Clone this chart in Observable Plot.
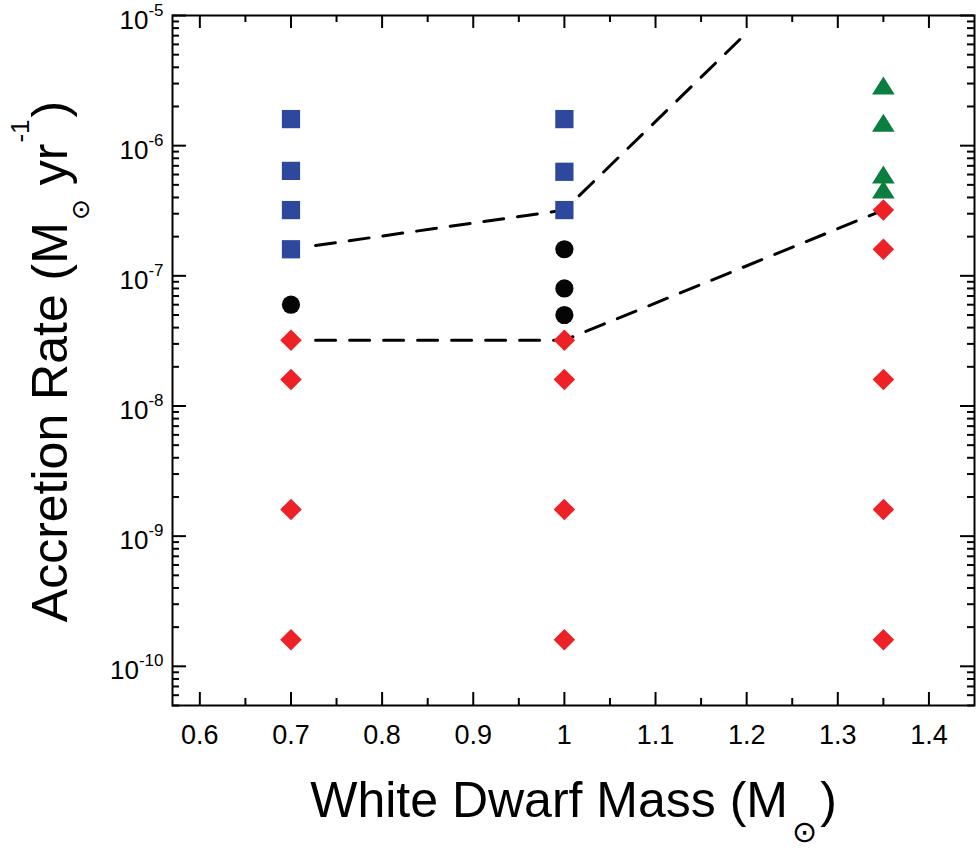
<!DOCTYPE html>
<html>
<head>
<meta charset="utf-8">
<script src="https://cdn.jsdelivr.net/npm/d3@7"></script>
<script src="https://cdn.jsdelivr.net/npm/@observablehq/plot@0.6"></script>
<style>
  html, body { margin: 0; padding: 0; background: #fff; }
  svg { display: block; }
</style>
</head>
<body>
<script>
// ---- data ----
const blueMass = [0.7, 0.7, 0.7, 0.7, 1.0, 1.0, 1.0];
const blueRate = [1.6e-6, 6.4e-7, 3.2e-7, 1.6e-7, 1.6e-6, 6.3e-7, 3.2e-7];

const blackMass = [0.7, 1.0, 1.0, 1.0];
const blackRate = [6.0e-8, 1.6e-7, 8.0e-8, 5.0e-8];

const redMass = [0.7, 0.7, 0.7, 0.7, 1.0, 1.0, 1.0, 1.0, 1.35, 1.35, 1.35, 1.35, 1.35];
const redRate = [3.2e-8, 1.6e-8, 1.6e-9, 1.6e-10, 3.2e-8, 1.6e-8, 1.6e-9, 1.6e-10, 3.2e-7, 1.6e-7, 1.6e-8, 1.6e-9, 1.6e-10];

const greenMass = [1.35, 1.35, 1.35, 1.35];
const greenRate = [2.9e-6, 1.5e-6, 6.0e-7, 4.6e-7];

const upperLineMass = [0.727, 1.0, 1.195];
const upperLineRate = [1.71e-7, 3.2e-7, 6.8e-6];
const lowerLineMass = [0.727, 1.0, 1.35];
const lowerLineRate = [3.2e-8, 3.2e-8, 3.2e-7];

const xMajorTicks = [0.6, 0.7, 0.8, 0.9, 1.0, 1.1, 1.2, 1.3, 1.4];
const xMinorTicks = [0.65, 0.75, 0.85, 0.95, 1.05, 1.15, 1.25, 1.35];
const yMajorTicks = [1e-10, 1e-9, 1e-8, 1e-7, 1e-6, 1e-5];
const yTickExponents = ["-10", "-9", "-8", "-7", "-6", "-5"];
const xTickLabels = ["0.6", "0.7", "0.8", "0.9", "1", "1.1", "1.2", "1.3", "1.4"];

const xTitle = ["White Dwarf Mass (M", "\u2299", ")"];
const yTitle = ["Accretion Rate (M", "\u2299", " yr", "-1", ")"];

// ---- helpers ----
const zip = (xs, ys) => xs.map((x, i) => ({x, y: ys[i]}));
const yDomain = [5e-11, 1e-5];
const yMinorTicks = d3.scaleLog().domain(yDomain).ticks().filter(v => !yMajorTicks.some(m => Math.abs(v / m - 1) < 1e-6));

const W = 976, H = 848;
const mL = 172, mR = 2, mT = 15, mB = 143;
const plotW = W - mL - mR, plotH = H - mT - mB;

const triangle = {
  draw(ctx, size) {
    const r = Math.sqrt(size / Math.PI);
    const hw = 1.26 * r, hh = 1.0 * r;
    ctx.moveTo(0, -hh);
    ctx.lineTo(hw, hh);
    ctx.lineTo(-hw, hh);
    ctx.closePath();
  }
};

const colors = {blue: "#2E489E", red: "#ED2227", green: "#0A7E3E", black: "#050505"};

const svg = Plot.plot({
  width: W,
  height: H,
  marginLeft: mL,
  marginRight: mR,
  marginTop: mT,
  marginBottom: mB,
  style: {fontFamily: "'Liberation Sans', Arial, sans-serif", background: "#fff", color: "#000"},
  x: {type: "linear", domain: [0.57, 1.45], axis: null},
  y: {type: "log", domain: yDomain, axis: null},
  marks: [
    // ticks (inward, all four sides)
    Plot.tickX(xMajorTicks, {x: d => d, insetTop: plotH - 13, strokeWidth: 2}),
    Plot.tickX(xMinorTicks, {x: d => d, insetTop: plotH - 7, strokeWidth: 2}),
    Plot.tickX(xMajorTicks, {x: d => d, insetBottom: plotH - 13, strokeWidth: 2}),
    Plot.tickX(xMinorTicks, {x: d => d, insetBottom: plotH - 7, strokeWidth: 2}),
    Plot.tickY(yMajorTicks, {y: d => d, insetRight: plotW - 14, strokeWidth: 2}),
    Plot.tickY(yMinorTicks, {y: d => d, insetRight: plotW - 7, strokeWidth: 2}),
    Plot.tickY(yMajorTicks, {y: d => d, insetLeft: plotW - 14, strokeWidth: 2}),
    Plot.tickY(yMinorTicks, {y: d => d, insetLeft: plotW - 7, strokeWidth: 2}),
    // dashed boundaries
    Plot.line(zip(upperLineMass, upperLineRate), {x: "x", y: "y", stroke: "#000", strokeWidth: 3, strokeDasharray: "20,14"}),
    Plot.line(zip(lowerLineMass, lowerLineRate), {x: "x", y: "y", stroke: "#000", strokeWidth: 3, strokeDasharray: "20,14"}),
    // markers
    Plot.dot(zip(blueMass, blueRate), {x: "x", y: "y", symbol: "square", r: 10.3, fill: colors.blue}),
    Plot.dot(zip(blackMass, blackRate), {x: "x", y: "y", symbol: "circle", r: 9.1, fill: colors.black}),
    Plot.dot(zip(greenMass, greenRate), {x: "x", y: "y", symbol: triangle, r: 9, fill: colors.green}),
    Plot.dot(zip(redMass, redRate), {x: "x", y: "y", symbol: "diamond2", r: 9.7, fill: colors.red}),
    // frame
    Plot.frame({stroke: "#000", strokeWidth: 2}),
    // tick labels
    Plot.text(xMajorTicks, {x: d => d, text: (d, i) => xTickLabels[i], frameAnchor: "bottom", lineAnchor: "bottom", dy: 38, fontSize: 27, fill: "#000"}),
    Plot.text(yMajorTicks, {y: d => d, text: (d, i) => "10|" + yTickExponents[i], frameAnchor: "left", lineAnchor: "bottom", textAnchor: "end", dx: -9, dy: 13, fontSize: 26, fill: "#000", className: "ytl"}),
    // axis titles
    Plot.text([0], {text: () => xTitle.join("|"), frameAnchor: "bottom", lineAnchor: "bottom", textAnchor: "middle", dy: 111, fontSize: 50, fill: "#000", className: "xtitle"}),
    Plot.text([0], {text: () => yTitle.join("|"), frameAnchor: "left", lineAnchor: "bottom", textAnchor: "middle", rotate: -90, dx: -106, dy: 1, fontSize: 50, fill: "#000", className: "ytitle"})
  ]
});

function rich(textEl, parts) {
  textEl.textContent = "";
  const ns = "http://www.w3.org/2000/svg";
  parts.forEach(p => {
    const ts = document.createElementNS(ns, "tspan");
    ts.textContent = p.t;
    if (p.size) ts.setAttribute("font-size", p.size);
    if (p.dy) ts.setAttribute("dy", p.dy);
    if (p.dx) ts.setAttribute("dx", p.dx);
    if (p.font) ts.setAttribute("font-family", p.font);
    textEl.appendChild(ts);
  });
}

d3.select(svg).selectAll("g.ytl text").each(function() {
  const [base, exp] = this.textContent.split("|");
  rich(this, [{t: base}, {t: exp, size: 17, dy: -13}]);
});
d3.select(svg).selectAll("g.xtitle text").each(function() {
  const p = this.textContent.split("|");
  rich(this, [{t: p[0]}, {t: p[1], size: 30, dy: 25, dx: 4, font: "DejaVu Sans"}, {t: p[2], size: 50, dy: -25, dx: 3}]);
});
d3.select(svg).selectAll("g.ytitle text").each(function() {
  const p = this.textContent.split("|");
  rich(this, [{t: p[0]}, {t: p[1], size: 25, dy: 22, dx: 2, font: "DejaVu Sans"}, {t: p[2], size: 50, dy: -22}, {t: p[3], size: 26, dy: -38, dx: 1}, {t: p[4], size: 50, dy: 38, dx: 2}]);
});

document.body.appendChild(svg);
</script>
</body>
</html>
